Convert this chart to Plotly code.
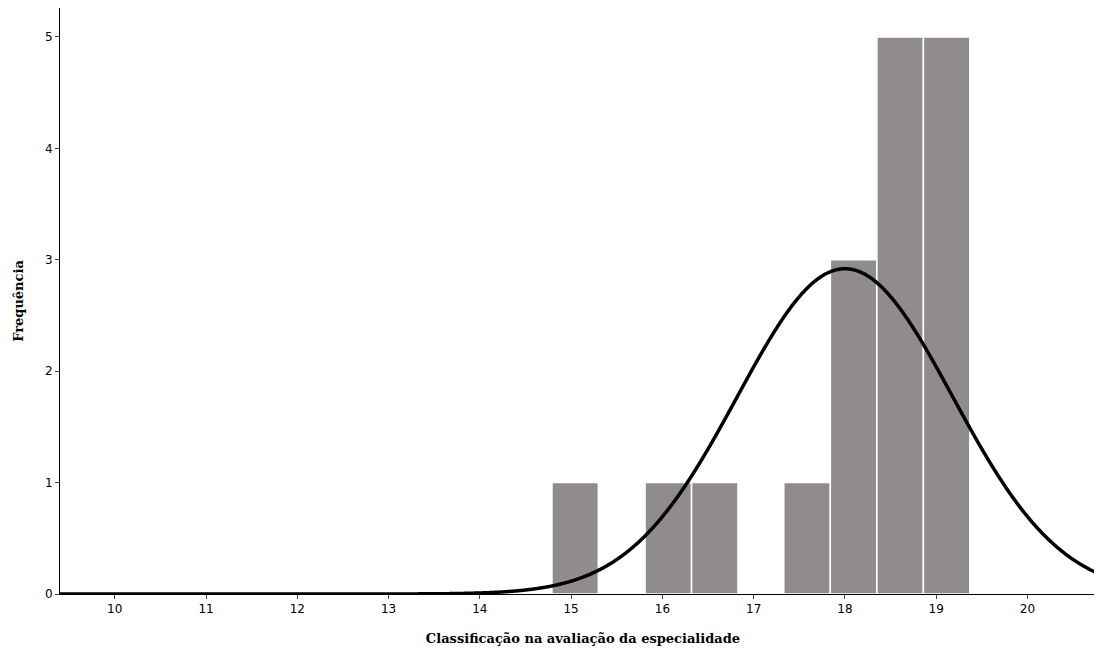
import numpy as np
import plotly.graph_objects as go

# histogram bins (left edges) and counts
bin_width = 0.508
bin_starts = [14.79, 15.81, 16.32, 17.33, 17.84, 18.35, 18.86]
counts = [1, 1, 1, 1, 3, 5, 5]

# fitted normal curve parameters
mean = 18.0
sd = 1.18
n_total = 17

x_ticks = [10, 11, 12, 13, 14, 15, 16, 17, 18, 19, 20]

centers = [s + bin_width / 2 for s in bin_starts]
xs = np.linspace(9.4, 20.86, 1000)
ys = n_total * bin_width / (sd * np.sqrt(2 * np.pi)) * np.exp(-0.5 * ((xs - mean) / sd) ** 2)

fig = go.Figure()
fig.add_trace(go.Bar(
    x=centers, y=counts, width=bin_width,
    marker=dict(color="#8f8c8b", line=dict(color="white", width=1.5)),
))
fig.add_trace(go.Scatter(
    x=xs, y=ys, mode="lines",
    line=dict(color="black", width=3.5, shape="spline"),
))

fig.update_layout(
    width=1102, height=655,
    margin=dict(l=52, r=4, t=0, b=69),
    plot_bgcolor="white", paper_bgcolor="white",
    showlegend=False,
    font=dict(family="DejaVu Sans", size=12, color="black"),
)
fig.update_xaxes(
    range=[9.4, 20.86], tickvals=x_ticks, showgrid=False, zeroline=False,
    showline=True, linecolor="black", linewidth=1, ticks="outside", ticklen=4,
    title=dict(text="<b>Classificação na avaliação da especialidade</b>",
               font=dict(family="DejaVu Serif", size=13), standoff=18),
)
fig.update_yaxes(
    range=[0, 5.26], tickvals=[0, 1, 2, 3, 4, 5], showgrid=False, zeroline=False,
    showline=True, linecolor="black", linewidth=1, ticks="outside", ticklen=4,
    title=dict(text="<b>Frequência</b>",
               font=dict(family="DejaVu Serif", size=13), standoff=18),
)

fig.write_html("out.html")
